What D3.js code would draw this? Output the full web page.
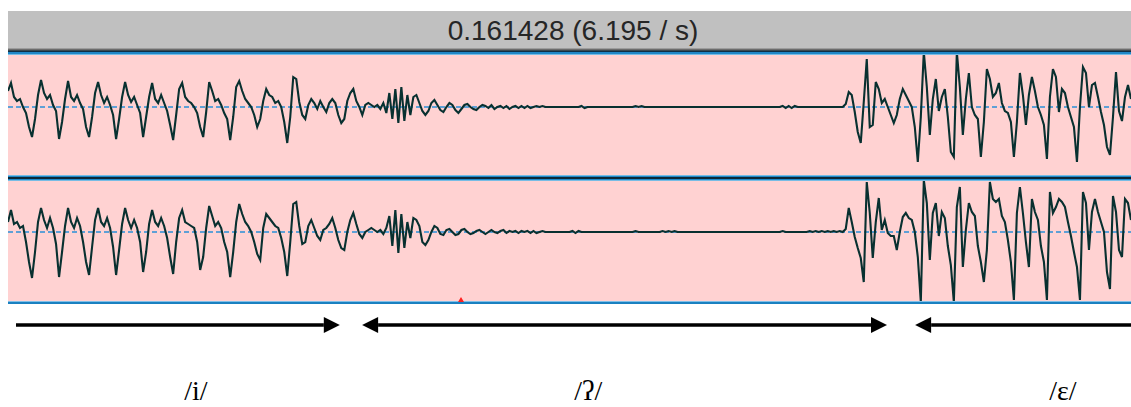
<!DOCTYPE html>
<html>
<head>
<meta charset="utf-8">
<script src="https://cdn.jsdelivr.net/npm/d3@7"></script>
<style>
  body { margin: 0; background: #fff; }
  svg { display: block; }
</style>
</head>
<body>
<div id="wave"></div>
<script>

// Sizes of the picture
const width = 1131;
const height = 407;
const left = 8;

// Length of the window in ms (header says 0.161428 s)
const duration = 161.428;
const headerText = "0.161428 (6.195 / s)";

// Waveform samples, one every ~3px, amplitude in px (up is positive)
// channel 1
const ch1Vowel1 = [16,24,10,6,8,0,-6,-20,-30,-12, 12,27,14,8,12,2,-4,-32,-15,8,
  26,10,6,12,4,-2,-20,-30,-10,14, 25,12,4,10,2,-8,-32,-12,10,25,
  12,5,10,2,-6,-30,-10,10,24,8, 4,12,4,-4,-18,-33,-8,18,24,10,
  6,4,0,-6,-20,-30,-5,25,16,6, 8,2,-6,-12,-33,-10,20,26,16,8,
  4,0,-8,-20,-12,6,18,12,10,4, 6,0,-15,-36,-10,30,28,5,-8,-12,
  2,8,4,-2,6,0,-5,4,8,4, -8,-16,-12,6,14,18,6,0,-8,2, 4,2,0,2,-2];
const ch1Closure = [4,-6,14,-12,18,-16,20,-14,12,-8, 10,12,4,-4,-8,-4,4,7,2,-3,
  -5,0,4,2,-3,-6,-2,2,3,0, -2,-3,0,2,1,-1,2,-2,0,1, -1,1,-2,0,1,-1,1,-1,1,-1,
  0,1,0,1,0,0,0,0,0,0, 0,0,0,0,0,0,1,-1,0,0, 0,0,0,0,0,0,0,0,0,0,
  0,0,0,0,1,0,1,0,0,0, 0,0,0,0,0,0,0,0,0,0, 0,0,0,0,0,0,0,0,0,0,
  0,0,0,0,0,0,0,0,0,0, 0,0,0,0,0,0,0,0,0,0, 0,0,0,1,-1,1,-1,1,0,0,
  0,0,0,0,0,0,0,0,0,0, 0,0,0,0,3];
const ch1Vowel2 = [15,12,-5,-25,-36,5,48,-20,-18,25, 18,4,8,0,-8,-16,-8,8,18,12,
  6,0,-20,-55,-10,55,20,-28,8,28, -4,10,18,-10,-45,-50,55,20,-28,8,
  34,0,-8,-12,-50,-15,38,28,10,14, 24,4,-4,-6,-15,-50,-15,34,12,-18,
  12,30,16,0,-8,-18,-52,10,38,30, -5,18,14,0,-10,-20,-55,0,40,34,
  0,22,24,10,-5,-18,-40,-48,-10,35, -4,-14,10,22,8];

// channel 2
const ch2Vowel1 = [10,22,8,10,4,6,-10,-30,-46,-20, 10,24,12,4,14,4,-12,-45,-20,6,
  24,10,4,14,6,-10,-30,-43,-15,12, 24,10,6,14,4,-15,-43,-18,8,24,
  12,4,12,4,-10,-40,-20,8,22,10, 6,14,6,-6,-25,-42,-10,14,22,10,
  8,6,4,-10,-38,-25,4,26,16,6, 10,4,-10,-20,-45,-20,10,28,18,10,
  6,0,-10,-22,-28,4,18,14,10,6, 4,-6,-20,-44,-10,28,30,6,-12,-10,
  6,12,4,-4,-8,2,4,8,14,4, -8,-16,-18,0,12,19,8,-2,-6,0, 2,4,2,0,2];
const ch2Closure = [-2,4,16,-14,22,-21,18,-16,10,-6, 14,12,6,-10,-13,-8,0,6,4,-2,
  -3,2,3,0,-3,-2,2,3,0,-2, -1,1,2,0,-2,0,2,0,-1,1, 2,-1,1,0,1,-1,1,0,1,-1,
  1,-1,0,1,0,0,0,0,0,0, 0,0,0,1,-1,1,0,0,0,0, 0,0,0,0,0,0,0,0,0,0,
  0,0,0,0,1,0,0,0,0,0, 0,0,0,1,0,1,0,1,0,0, 0,0,0,0,0,0,0,0,0,0,
  0,0,0,0,0,0,0,0,0,0, 0,0,0,0,0,0,0,0,0,0, 0,0,0,1,0,0,0,0,0,0,
  0,0,1,0,1,0,1,0,1,0, 1,0,1,0,3];
const ch2Vowel2 = [24,10,-5,-16,-26,-50,50,19,-26,10, 34,2,12,-1,-4,-4,-18,0,15,19,
  14,12,0,-25,-70,52,29,-28,19,29, -4,20,14,-14,-33,-70,25,45,-35,2,
  29,20,16,-14,-30,-50,-18,50,33,30, 33,16,10,-8,-30,-68,19,45,19,-10,
  -35,33,20,12,-14,-30,-68,40,19,25, 33,30,25,10,-4,-20,-35,-68,40,29,
  -18,20,33,20,10,0,-40,-57,36,20, -18,-25,33,29,12];

// Segments under the waveform (times in ms)
const segLabels = ["/i/", "/ʔ/", "/ɛ/"];
const segStart = [1.15, 50.9, 130.4];
const segEnd = [47.7, 126.35, 161.43];
const segMid = [27.0, 83.4, 151.65];
const headAtStart = [false, true, true];
const headAtEnd = [true, true, false];

const ch1 = [...ch1Vowel1, ...ch1Closure, ...ch1Vowel2];
const ch2 = [...ch2Vowel1, ...ch2Closure, ...ch2Vowel2];

const channels = [
  {name: "ch1", top: 55, bottom: 175, center: 107, data: ch1},
  {name: "ch2", top: 181, bottom: 302, center: 232, data: ch2}
];

const svg = d3.select("#wave")
  .append("svg")
  .attr("width", width)
  .attr("height", height);

// time scale shared by the waveform and the arrows
const xScale = d3.scaleLinear()
  .domain([0, duration])
  .range([left, width]);

/*

  Header bar

*/

svg.append("rect")
  .attr("x", left).attr("y", 11)
  .attr("width", width - left).attr("height", 37)
  .attr("fill", "#c0c0c0");

svg.append("text")
  .attr("x", 573).attr("y", 40)
  .attr("text-anchor", "middle")
  .attr("font-family", "'Liberation Sans', Arial, sans-serif")
  .attr("font-size", "28px")
  .attr("fill", "#262626")
  .text(headerText);

// thin border lines under the header
const strips = [
  [48, 1, "#9c9c9c"], [49, 1, "#6c6c6c"], [50, 1, "#3c4a50"], [51, 1, "#0e3048"],
  [52, 2, "#2088c8"], [54, 1, "#78bce4"]
];
svg.selectAll(".strip")
  .data(strips)
  .enter()
  .append("rect")
    .attr("class", "strip")
    .attr("x", left).attr("y", d => d[0])
    .attr("width", width - left).attr("height", d => d[1])
    .attr("fill", d => d[2]);

/*

  Channels

*/

channels.forEach((c, k) => {
  const yScale = d3.scaleLinear()
    .domain([-60, 60])
    .range([c.center + 60, c.center - 60]);

  svg.append("rect")
    .attr("x", left).attr("y", c.top)
    .attr("width", width - left).attr("height", c.bottom - c.top)
    .attr("fill", "#ffd2d2");

  svg.append("clipPath")
    .attr("id", "clip" + k)
    .append("rect")
      .attr("x", left).attr("y", c.top)
      .attr("width", width - left).attr("height", c.bottom - c.top);

  // dashed zero line
  svg.append("line")
    .attr("x1", left).attr("x2", width)
    .attr("y1", yScale(0)).attr("y2", yScale(0))
    .attr("stroke", "#2a90d8")
    .attr("stroke-width", 1.5)
    .attr("stroke-dasharray", "5,3");

  const step = duration / (c.data.length - 1);
  const line = d3.line()
    .x((d, i) => xScale(i * step))
    .y(d => yScale(d));

  svg.append("path")
    .datum(c.data)
    .attr("clip-path", `url(#clip${k})`)
    .attr("d", line)
    .attr("fill", "none")
    .attr("stroke", "#083030")
    .attr("stroke-width", 2.1)
    .attr("stroke-linejoin", "miter");
});

// separator between the two channels and the bottom edge
const seps = [
  [175, 1, "#78bce4"], [176, 1, "#2088c8"], [177, 2, "#0e2838"], [179, 1, "#2088c8"], [180, 1, "#78bce4"],
  [301, 1, "#80c0e8"], [302, 2, "#1a80c0"]
];
svg.selectAll(".sep")
  .data(seps)
  .enter()
  .append("rect")
    .attr("class", "sep")
    .attr("x", left).attr("y", d => d[0])
    .attr("width", width - left).attr("height", d => d[1])
    .attr("fill", d => d[2]);

// little red cursor mark
svg.append("path")
  .attr("d", "M458,302 L461,297 L464,302 Z")
  .attr("fill", "#ff2020");

/*

  Segment arrows and labels

*/

const arrowY = 325;
const headLen = 16;
const headHalf = 8;

segLabels.forEach((lab, i) => {
  const x0 = xScale(segStart[i]);
  const x1 = xScale(segEnd[i]);
  const a = headAtStart[i] ? x0 + headLen : x0;
  const b = headAtEnd[i] ? x1 - headLen : x1;

  svg.append("line")
    .attr("x1", a).attr("x2", b)
    .attr("y1", arrowY).attr("y2", arrowY)
    .attr("stroke", "#000")
    .attr("stroke-width", 3.5);

  if (headAtEnd[i]) {
    svg.append("path")
      .attr("d", `M${x1},${arrowY} L${x1 - headLen},${arrowY - headHalf} L${x1 - headLen},${arrowY + headHalf} Z`)
      .attr("fill", "#000");
  }
  if (headAtStart[i]) {
    svg.append("path")
      .attr("d", `M${x0},${arrowY} L${x0 + headLen},${arrowY - headHalf} L${x0 + headLen},${arrowY + headHalf} Z`)
      .attr("fill", "#000");
  }

  svg.append("text")
    .attr("x", xScale(segMid[i]))
    .attr("y", 400)
    .attr("text-anchor", "middle")
    .attr("font-family", "'Liberation Serif', 'DejaVu Serif', serif")
    .attr("font-size", "28px")
    .attr("fill", "#000")
    .text(lab);
});

</script>
</body>
</html>
